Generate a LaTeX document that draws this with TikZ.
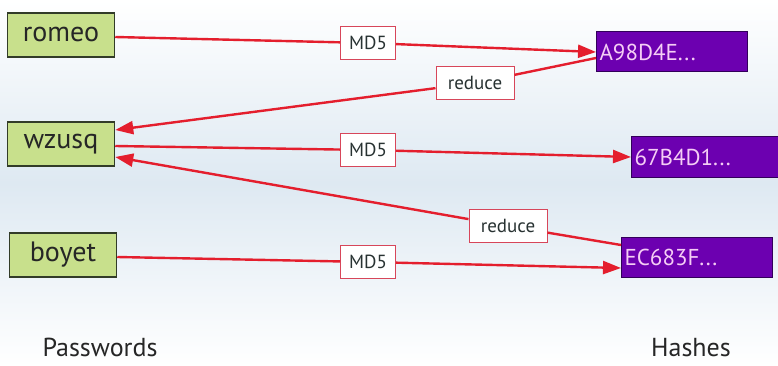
\documentclass[tikz,border=0pt]{standalone}
\usepackage{fontspec}
\setmainfont{PT Sans}
\usetikzlibrary{arrows.meta}
\definecolor{bgmid}{RGB}{222,233,242}
\definecolor{pwfill}{RGB}{200,224,140}
\definecolor{pwdraw}{RGB}{50,60,40}
\definecolor{hfill}{RGB}{108,0,176}
\definecolor{hdraw}{RGB}{50,0,90}
\definecolor{htext}{RGB}{245,205,245}
\definecolor{arrred}{RGB}{228,30,45}
\definecolor{lbldraw}{RGB}{215,70,90}
\definecolor{lbltext}{RGB}{40,50,50}
\tikzset{
  pwbox/.style={draw=pwdraw, line width=1.5pt, fill=pwfill, minimum width=107pt, minimum height=44pt, inner sep=0pt, font=\fontsize{28}{28}\selectfont, text=black!85},
  hashbox/.style={draw=hdraw, line width=1pt, fill=hfill, minimum height=40pt, text width=145pt, align=left, inner xsep=3pt, inner ysep=0pt, font=\fontsize{23}{23}\selectfont, text=htext},
  opbox/.style={draw=lbldraw, line width=1pt, fill=white, minimum height=33pt, inner xsep=4pt, inner ysep=0pt, font=\fontsize{19}{19}\selectfont, text=lbltext},
  conn/.style={draw=arrred, line width=2.4pt},
  arr/.style={conn, -{Triangle[length=18pt,width=13pt]}},
  caption/.style={font=\fontsize{26}{26}\selectfont, text=black!85, inner sep=0pt, anchor=base}
}
\begin{document}
\begin{tikzpicture}[x=1pt,y=-1pt]
\useasboundingbox (0,0) rectangle (778,366);
\shade[top color=white, bottom color=white, middle color=bgmid] (0,0) rectangle (778,366);
% password nodes
\node[pwbox] (romeo) at (61,35) {romeo};
\node[pwbox] (wzusq) at (61,144) {wzusq};
\node[pwbox] (boyet) at (63,255) {boyet};
% hash nodes
\node[hashbox] (ha) at (672,52) {A98D4E...};
\node[hashbox] (hb) at (707,157) {67B4D1...};
\node[hashbox] (hc) at (697,257) {EC683F...};
% operation labels
\node[opbox, minimum width=55pt] (md1) at (368,43) {MD5};
\node[opbox, minimum width=78pt] (red1) at (475,83) {reduce};
\node[opbox, minimum width=55pt] (md2) at (368,150) {MD5};
\node[opbox, minimum width=78pt] (red2) at (508,226) {reduce};
\node[opbox, minimum width=55pt] (md3) at (368,262) {MD5};
% connectors
\draw[conn] ([yshift=-2pt]romeo.east) -- (md1);
\draw[arr] (md1) -- (ha.west);
\draw[conn] ([yshift=-6pt]ha.west) -- (red1);
\draw[arr] (red1) -- ([yshift=14pt]wzusq.east);
\draw[conn] ([yshift=-2pt]wzusq.east) -- (md2);
\draw[arr] (md2) -- (hb.west);
\draw[conn] ([yshift=12pt]hc.west) -- (red2);
\draw[arr] (red2) -- ([yshift=-13pt]wzusq.east);
\draw[conn] ([yshift=-2pt]boyet.east) -- (md3);
\draw[arr] (md3) -- ([yshift=-11pt]hc.west);
% captions
\node[caption] (pw) at (100,356) {Passwords};
\node[caption] (hs) at (691,356) {Hashes};
\end{tikzpicture}
\end{document}
